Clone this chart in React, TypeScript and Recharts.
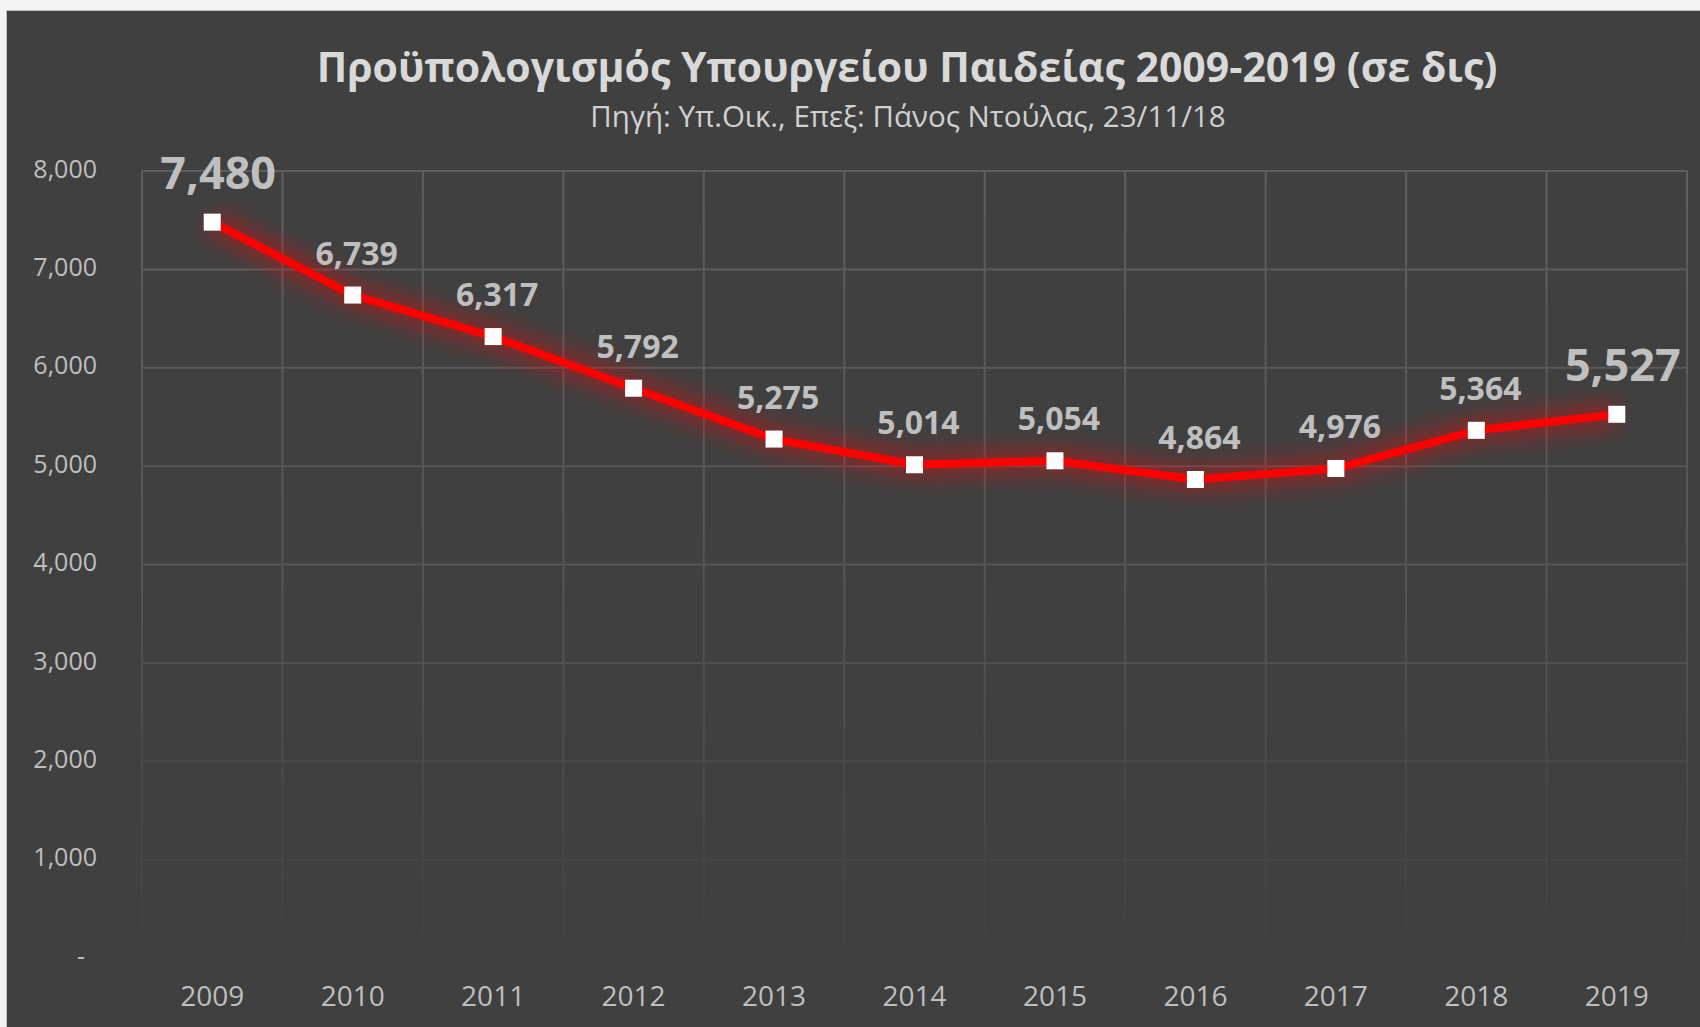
import { CartesianGrid, LabelList, Line, LineChart, XAxis, YAxis } from "recharts";

const years = ["2009", "2010", "2011", "2012", "2013", "2014", "2015", "2016", "2017", "2018", "2019"];
const budget = [7480, 6739, 6317, 5792, 5275, 5014, 5054, 4864, 4976, 5364, 5527];
const yTicks = [0, 1000, 2000, 3000, 4000, 5000, 6000, 7000, 8000];

const data = years.map((year, i) => ({ year, value: budget[i] }));

const W = 1694;
const H = 1017;
const margin = { top: 160, right: 14, left: 0, bottom: 40 };
const yAxisWidth = 135;
const xAxisHeight = 30;
const font = "'Open Sans', 'Noto Sans', sans-serif";
const lastIndex = budget.length - 1;

// half a category slot, so the points sit in the middle of each grid cell
const halfSlot = (W - margin.left - margin.right - yAxisWidth) / years.length / 2;

const fmt = (v: number) => (v === 0 ? "-" : v.toLocaleString("en-US"));

const YTick = (props: any) => {
  const { x, y, payload } = props;
  const zero = payload.value === 0;
  return (
    <text
      x={zero ? x - 12 : x}
      y={y}
      textAnchor="end"
      dominantBaseline="middle"
      fill="#bfbfbf"
      fontSize={25}
      fontFamily={font}
    >
      {fmt(payload.value)}
    </text>
  );
};

const XTick = (props: any) => {
  const { x, y, payload } = props;
  return (
    <text
      x={x}
      y={y + 39}
      textAnchor="middle"
      dominantBaseline="middle"
      fill="#bfbfbf"
      fontSize={28}
      fontFamily={font}
    >
      {payload.value}
    </text>
  );
};

const SquareDot = (props: any) => {
  const { cx, cy, index } = props;
  if (cx == null || cy == null) return null;
  return <rect key={`dot-${index}`} x={cx - 8.5} y={cy - 8.5} width={17} height={17} fill="#ffffff" />;
};

const ValueLabel = (props: any) => {
  const { x, y, value, index } = props;
  const big = index === 0 || index === lastIndex;
  return (
    <text
      x={x + (big ? 6 : 4)}
      y={y - (big ? 45 : 39)}
      textAnchor="middle"
      dominantBaseline="middle"
      fill="#bfbfbf"
      fontWeight="bold"
      fontSize={big ? 45 : 32}
      fontFamily={font}
    >
      {Number(value).toLocaleString("en-US")}
    </text>
  );
};

const gridX = ({ offset }: any) =>
  Array.from({ length: years.length + 1 }, (_, i) => offset.left + (i * offset.width) / years.length);

const App = () => {
  return (
    <div style={{ position: "absolute", left: 0, top: 0, width: 1700, height: 1027, background: "#f4f4f4" }}>
      <svg width={0} height={0} style={{ position: "absolute" }}>
        <defs>
          <filter id="glow" x="-20%" y="-50%" width="140%" height="200%">
            <feGaussianBlur stdDeviation="10" />
          </filter>
          <linearGradient id="gridFade" gradientUnits="userSpaceOnUse" x1="0" y1="160" x2="0" y2="947">
            <stop offset="0" stopColor="#5e5e5e" />
            <stop offset="0.5" stopColor="#555555" />
            <stop offset="1" stopColor="#414141" />
          </linearGradient>
        </defs>
      </svg>
      <div
        style={{
          position: "absolute",
          left: 6,
          top: 10,
          width: W,
          height: H,
          background: "#404040",
          borderTop: "1px solid #bdbdbd",
          borderLeft: "1px solid #bdbdbd",
          boxSizing: "border-box",
        }}
      >
        <div
          style={{
            position: "absolute",
            left: 900,
            top: 55,
            transform: "translate(-50%, -50%)",
            whiteSpace: "nowrap",
            color: "#d9d9d9",
            fontFamily: font,
            fontWeight: "bold",
            fontSize: 41,
          }}
        >
          Προϋπολογισμός Υπουργείου Παιδείας 2009-2019 (σε δις)
        </div>
        <div
          style={{
            position: "absolute",
            left: 901,
            top: 104,
            transform: "translate(-50%, -50%)",
            whiteSpace: "nowrap",
            color: "#d0d0d0",
            fontFamily: font,
            fontSize: 29.5,
          }}
        >
          Πηγή: Υπ.Οικ., Επεξ: Πάνος Ντούλας, 23/11/18
        </div>
        <LineChart width={W} height={H} data={data} margin={margin} style={{ position: "absolute", left: 0, top: 0 }}>
          <CartesianGrid stroke="url(#gridFade)" strokeWidth={2} verticalCoordinatesGenerator={gridX} />
          <XAxis
            dataKey="year"
            height={xAxisHeight}
            axisLine={false}
            tickLine={false}
            tickSize={0}
            tick={<XTick />}
            interval={0}
            padding={{ left: halfSlot, right: halfSlot }}
          />
          <YAxis
            type="number"
            domain={[0, 8000]}
            ticks={yTicks}
            width={yAxisWidth}
            axisLine={false}
            tickLine={false}
            tickSize={0}
            tickMargin={45}
            tick={<YTick />}
          />
          <Line
            dataKey="value"
            stroke="#ff0000"
            strokeWidth={28}
            strokeOpacity={0.35}
            filter="url(#glow)"
            dot={false}
            activeDot={false}
            isAnimationActive={false}
          />
          <Line
            dataKey="value"
            stroke="#ff0000"
            strokeWidth={8}
            dot={<SquareDot />}
            activeDot={false}
            isAnimationActive={false}
          >
            <LabelList dataKey="value" content={<ValueLabel />} />
          </Line>
        </LineChart>
      </div>
    </div>
  );
};

export default App;
